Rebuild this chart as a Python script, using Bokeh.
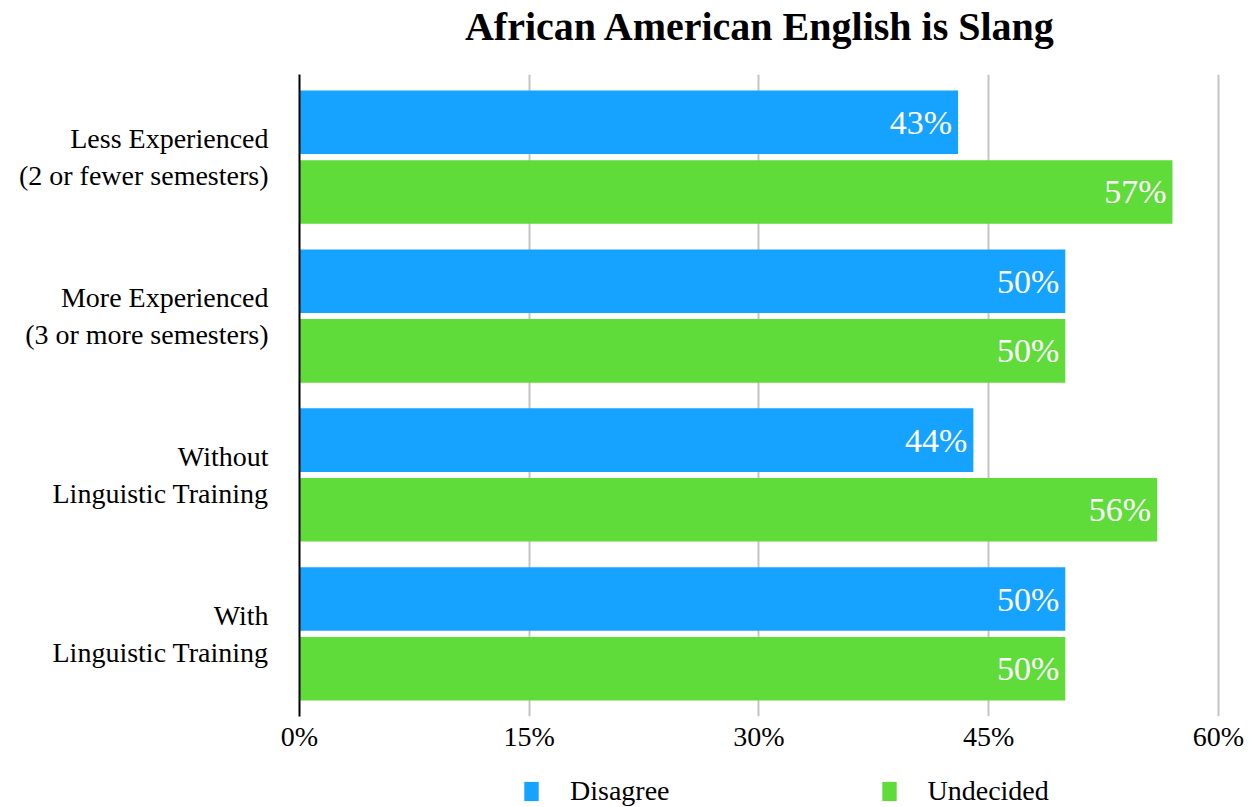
from bokeh.plotting import figure
from bokeh.layouts import column
from bokeh.models import ColumnDataSource, Range1d, LabelSet, Legend, LegendItem, Label, FixedTicker
from bokeh.embed import file_html
from bokeh.resources import INLINE

categories = ["Less Experienced\n(2 or fewer semesters)",
              "More Experienced\n(3 or more semesters)",
              "Without\nLinguistic Training",
              "With\nLinguistic Training"]
disagree = [43, 50, 44, 50]
undecided = [57, 50, 56, 50]
x_ticks = [0, 15, 30, 45, 60]
series_names = ["Disagree", "Undecided"]
title_text = "African American English is Slang"

FONT = "Liberation Serif"
BLUE = "#16A2FF"
GREEN = "#5FDB3A"
LB, RB = 299, 38

n = len(categories)
centers = [n - 1 - i for i in range(n)]
off = 0.219
h = 0.40


def strip(height, yr=(0, 1)):
    f = figure(width=1259, height=height, output_backend="svg", toolbar_location=None,
               x_range=Range1d(0, 1), y_range=Range1d(*yr),
               min_border_left=LB, min_border_right=RB, min_border_top=0, min_border_bottom=0)
    f.axis.visible = False
    f.grid.visible = False
    f.outline_line_color = None
    return f


# title strip
tf = strip(74)
tf.add_layout(Label(x=461, y=48, x_units="screen", y_units="screen", text=title_text,
                    text_align="center", text_baseline="alphabetic",
                    text_font=FONT, text_font_size="40px", text_font_style="bold",
                    text_color="#000000"))

src_d = ColumnDataSource(dict(y=[c + off for c in centers], right=disagree,
                              lab=[f"{v}%" for v in disagree]))
src_u = ColumnDataSource(dict(y=[c - off for c in centers], right=undecided,
                              lab=[f"{v}%" for v in undecided]))

p = figure(width=1259, height=696, output_backend="svg", toolbar_location=None,
           x_range=Range1d(0, 60.2), y_range=Range1d(-0.52, n - 1 + 0.52),
           min_border_left=LB, min_border_right=RB, min_border_top=0, min_border_bottom=54)
p.outline_line_color = None
p.background_fill_color = "white"

rd = p.hbar(y="y", left=0, right="right", height=h, source=src_d, fill_color=BLUE, line_color=None)
ru = p.hbar(y="y", left=0, right="right", height=h, source=src_u, fill_color=GREEN, line_color=None)

for s in (src_d, src_u):
    p.add_layout(LabelSet(x="right", y="y", text="lab", source=s, x_offset=-6,
                          text_align="right", text_baseline="middle", text_color="white",
                          text_font=FONT, text_font_size="34px"))

p.xaxis.ticker = FixedTicker(ticks=x_ticks)
p.xaxis.major_label_overrides = {v: f"{v}%" for v in x_ticks}
p.xaxis.axis_line_color = None
p.xaxis.major_tick_line_color = None
p.xaxis.minor_tick_line_color = None
p.xaxis.major_tick_out = 0
p.xaxis.major_tick_in = 0
p.xaxis.major_label_standoff = 4
p.xaxis.major_label_text_font = FONT
p.xaxis.major_label_text_font_size = "28px"
p.xaxis.major_label_text_color = "#000000"

p.yaxis.ticker = FixedTicker(ticks=centers)
p.yaxis.major_label_overrides = {c: categories[i] for i, c in enumerate(centers)}
p.yaxis.axis_line_color = "#000000"
p.yaxis.axis_line_width = 2
p.yaxis.major_tick_line_color = None
p.yaxis.minor_tick_line_color = None
p.yaxis.major_tick_out = 0
p.yaxis.major_tick_in = 0
p.yaxis.major_label_standoff = 31
p.yaxis.major_label_text_font = FONT
p.yaxis.major_label_text_font_size = "28px"
p.yaxis.major_label_text_color = "#000000"

p.xgrid.ticker = FixedTicker(ticks=x_ticks[1:])
p.xgrid.grid_line_color = "#C4C4C4"
p.xgrid.grid_line_width = 2
p.ygrid.grid_line_color = None

# legend strip below the chart (same series, drawn outside this strip's visible range)
q = strip(37, yr=(100, 101))
ld = q.hbar(y="y", left=0, right="right", height=h, source=src_d,
            fill_color=BLUE, line_color=None)
lu = q.hbar(y="y", left=0, right="right", height=h, source=src_u,
            fill_color=GREEN, line_color=None)
legend = Legend(items=[LegendItem(label=series_names[0], renderers=[ld]),
                       LegendItem(label=series_names[1], renderers=[lu])],
                orientation="horizontal", location=(223, 0),
                glyph_width=18, glyph_height=24, label_standoff=30, spacing=210,
                label_text_font=FONT, label_text_font_size="28px", label_text_color="#000000",
                border_line_color=None, background_fill_alpha=0, padding=0, margin=0)
q.add_layout(legend, "center")

layout = column(tf, p, q, spacing=0)
open("out.html", "w").write(file_html(layout, INLINE))
